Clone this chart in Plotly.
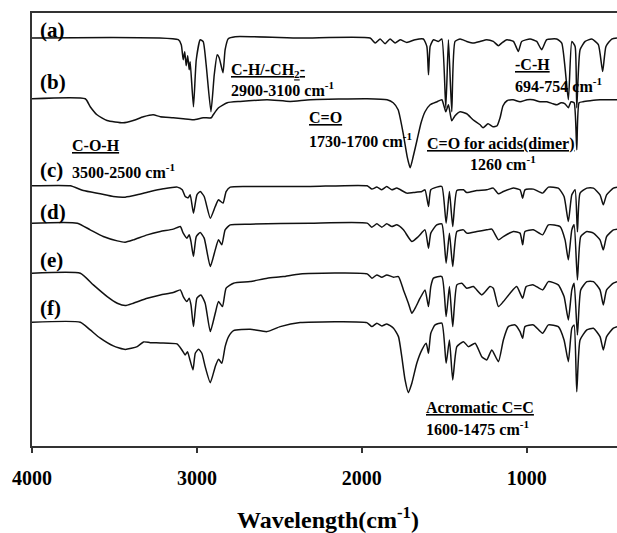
import plotly.graph_objects as go

# Wavenumber (cm-1) and transmittance (a.u., stacked)
wn_a = [4000, 3113, 3095, 3083, 3074, 3065, 3056, 3047, 3041, 3021, 3004, 2980, 2962, 2944, 2915, 2895, 2877, 2865, 2842, 2829, 2810, 2768, 2374, 1950, 1919, 1889, 1859, 1829, 1798, 1768, 1727, 1677, 1627, 1606, 1596, 1586, 1566, 1536, 1515, 1491, 1475, 1455, 1435, 1404, 1364, 1324, 1283, 1243, 1203, 1172, 1152, 1121, 1081, 1051, 1031, 980, 940, 910, 879, 819, 788, 748, 727, 707, 697, 677, 646, 606, 566, 540, 520, 485, 453]
t_a = [407.7, 406, 401, 386, 394, 380, 390, 376, 384, 339, 386, 406, 404, 381, 334, 371, 391, 388, 373, 396, 407, 409, 407.7, 407.7, 402.7, 406.7, 402, 406.7, 402.7, 406, 403.3, 406, 406.7, 399.3, 371, 399.3, 406, 404.3, 406.7, 338, 406, 334, 404.3, 406.7, 404.3, 402.7, 404.3, 406, 404.3, 400, 402.7, 406, 404.3, 394.3, 404.3, 406.7, 404.3, 396, 406, 406.7, 402.7, 346, 404.3, 399.3, 338, 396, 404.3, 406.7, 401, 374.3, 399.3, 406.7, 407.7]

wn_b = [4000, 3677, 3647, 3606, 3545, 3447, 3386, 3325, 3265, 3222, 3144, 3083, 3021, 2962, 2913, 2901, 2869, 2816, 2738, 2574, 2435, 2313, 1968, 1847, 1810, 1780, 1750, 1725, 1707, 1689, 1665, 1641, 1617, 1586, 1544, 1515, 1491, 1475, 1455, 1435, 1404, 1364, 1326, 1283, 1265, 1235, 1205, 1180, 1162, 1144, 1120, 1083, 1041, 998, 962, 920, 878, 841, 817, 792, 768, 748, 732, 713, 697, 683, 659, 616, 556, 495, 453]
t_b = [347, 347, 339, 331, 325.3, 323, 325.3, 329, 331, 329, 328, 327, 326, 328, 328, 331, 338, 343, 344.3, 346, 344.3, 346, 347, 346, 343, 336, 313, 289, 278, 289, 306, 323, 334, 341, 344, 346, 334, 341, 325, 330, 334, 332, 326, 321, 318, 322, 319, 320, 328, 340, 345, 346, 344, 346, 346, 344, 344, 342, 341, 343, 342, 338, 344, 343, 296, 343, 344, 345, 346, 346, 346]

wn_c = [4000, 3768, 3689, 3586, 3507, 3435, 3362, 3283, 3204, 3119, 3089, 3071, 3053, 3041, 3021, 3000, 2980, 2956, 2919, 2889, 2869, 2842, 2823, 2798, 2677, 2313, 1968, 1939, 1909, 1879, 1849, 1818, 1788, 1727, 1689, 1636, 1617, 1596, 1582, 1546, 1515, 1489, 1469, 1449, 1424, 1384, 1364, 1303, 1243, 1203, 1172, 1142, 1081, 1041, 1025, 1011, 960, 904, 869, 809, 774, 748, 727, 707, 693, 677, 636, 596, 556, 536, 516, 475, 453]
t_c = [260, 260, 255.3, 252, 249.3, 248.7, 251, 254.3, 257, 258.7, 256, 249.3, 248, 251, 232.7, 251, 254.3, 249.3, 227.7, 239.3, 246, 242.7, 254.3, 258.7, 259.3, 259.3, 260, 256.7, 258.7, 256, 259.3, 256, 257.7, 252.7, 253.3, 254.3, 256, 239.3, 256, 258.7, 259.3, 222.7, 254.3, 219.3, 255.3, 256, 253.3, 255.3, 256, 257.7, 252, 254.3, 257.7, 256, 247.7, 256, 256.7, 252.7, 258.7, 257.7, 249.3, 224.3, 251, 256, 214, 252.7, 257.7, 257.7, 251, 241, 251, 257.7, 258.7]

wn_d = [4000, 3725, 3647, 3568, 3483, 3435, 3386, 3301, 3222, 3144, 3101, 3083, 3061, 3047, 3036, 3021, 3004, 2980, 2956, 2919, 2889, 2869, 2849, 2829, 2798, 2677, 2313, 1968, 1939, 1909, 1879, 1849, 1818, 1788, 1748, 1697, 1657, 1617, 1596, 1582, 1546, 1515, 1489, 1469, 1449, 1424, 1384, 1364, 1303, 1243, 1212, 1172, 1142, 1081, 1041, 1025, 1011, 960, 904, 869, 798, 768, 748, 727, 713, 693, 673, 636, 596, 556, 536, 516, 475, 453]
t_d = [222.7, 222.7, 216, 209.3, 205, 203.7, 206, 211, 214.3, 216.7, 219.3, 212.7, 207.7, 211, 204.3, 189.3, 209.3, 213.3, 207.7, 179.3, 196, 206, 201, 216, 221, 221.7, 222.7, 222.7, 218.7, 222, 218.7, 222, 219.3, 221, 216, 204.3, 209.3, 216, 197.7, 212.7, 221, 222, 182.7, 212.7, 179.3, 214.3, 216, 212.7, 214.3, 216, 216.7, 206, 209.3, 214.3, 212.7, 201, 214.3, 216, 211, 221, 219.3, 206, 186, 216, 221, 166, 209.3, 214.3, 212.7, 206, 196, 209.3, 216, 216.7]

wn_e = [4000, 3707, 3628, 3544, 3483, 3435, 3386, 3301, 3222, 3144, 3101, 3083, 3061, 3047, 3036, 3021, 3000, 2976, 2950, 2919, 2889, 2869, 2845, 2823, 2778, 2677, 2574, 2477, 2374, 1968, 1939, 1909, 1879, 1849, 1808, 1778, 1748, 1718, 1697, 1677, 1647, 1617, 1596, 1582, 1566, 1515, 1489, 1469, 1449, 1424, 1394, 1364, 1324, 1273, 1223, 1203, 1172, 1142, 1101, 1061, 1025, 1004, 960, 904, 869, 809, 774, 748, 727, 713, 693, 673, 636, 596, 556, 536, 516, 475, 453]
t_e = [172.7, 172.7, 161, 149.3, 142.7, 140.3, 142.7, 147.7, 151, 153.3, 156, 149.3, 144.3, 147.7, 141, 119.3, 147.7, 151, 142.7, 114.3, 132.7, 144.3, 139.3, 157.7, 162.7, 164.3, 167.7, 169.3, 172, 172, 167.7, 171, 168.7, 171, 168.7, 169.3, 156, 142.7, 132.7, 137.7, 147.7, 156, 139.3, 159.3, 167.7, 169.3, 129.3, 159.3, 119.3, 161, 162.7, 157.7, 159.3, 151, 159.3, 157.7, 139.3, 144.3, 152.7, 159.3, 147.7, 159.3, 161, 156, 164.3, 161, 149.3, 126, 156, 162.7, 111, 156, 164.3, 164.3, 156, 141, 156, 162.7, 164.3]

wn_f = [4000, 3707, 3647, 3586, 3507, 3435, 3362, 3324, 3283, 3222, 3121, 3091, 3071, 3057, 3045, 3024, 3010, 2990, 2970, 2950, 2919, 2889, 2869, 2849, 2829, 2808, 2778, 2677, 2576, 2495, 2374, 1970, 1939, 1909, 1879, 1849, 1808, 1778, 1758, 1738, 1718, 1697, 1667, 1636, 1610, 1596, 1582, 1556, 1515, 1489, 1469, 1449, 1424, 1384, 1354, 1313, 1273, 1243, 1212, 1172, 1142, 1112, 1071, 1041, 1025, 1011, 960, 904, 869, 809, 774, 748, 727, 713, 697, 677, 636, 596, 556, 536, 516, 475, 453]
t_f = [123.7, 123.7, 116, 107.7, 100, 96.5, 99.3, 104, 103.3, 103, 102, 96, 91, 94.3, 87.7, 76, 92.7, 96.7, 92.7, 79.3, 63.3, 79.3, 86.7, 82.7, 99.3, 109.3, 115.3, 116.7, 114.3, 119.3, 123.3, 123.3, 119.3, 122.7, 120, 122, 117.7, 109.3, 89.3, 66, 53.3, 62.7, 82.7, 96, 102.7, 92.7, 112.7, 121, 122.7, 82.7, 106, 66, 99.3, 104.3, 99.3, 102.7, 89.3, 86, 96, 84.3, 106, 119.3, 121, 114.3, 107.7, 119.3, 121, 112.7, 121, 119.3, 106, 84.3, 117.7, 121, 54.3, 106, 116, 117.7, 109.3, 96, 109.3, 117.7, 119.3]

series = [(wn_a, t_a), (wn_b, t_b), (wn_c, t_c), (wn_d, t_d), (wn_e, t_e), (wn_f, t_f)]
labels = ["(a)", "(b)", "(c)", "(d)", "(e)", "(f)"]
label_y = [416, 364, 276, 234, 186, 138]
tick_vals = [4000, 3000, 2000, 1000]
tick_text = ["4000", "3000", "2000", "1000"]

SERIF = "Liberation Serif, Times New Roman, serif"

fig = go.Figure()
for wn, t in series:
    fig.add_trace(go.Scatter(x=wn, y=t, mode="lines",
                             line=dict(color="#111111", width=1.5, shape="spline", smoothing=0.5),
                             showlegend=False, hoverinfo="skip"))

ann = []
for lab, ly in zip(labels, label_y):
    ann.append(dict(x=3962, y=ly, text="<b>%s</b>" % lab, xanchor="left", yanchor="middle",
                    showarrow=False, font=dict(family=SERIF, size=21, color="black")))

notes = [
    (2804, 375, "<b><u>C-H/-CH<sub>2</sub>-</u></b>"),
    (2804, 357, "<b>2900-3100 cm<sup>-1</sup></b>"),
    (1083, 381, "<b><u>-C-H</u></b>"),
    (1083, 361, "<b>694-754 cm<sup>-1</sup></b>"),
    (2332, 328, "<b><u>C=O</u></b>"),
    (2332, 306, "<b>1730-1700 cm<sup>-1</sup></b>"),
    (1617, 302, "<b><u>C=O for acids(dimer)</u></b>"),
    (1356, 283, "<b>1260 cm<sup>-1</sup></b>"),
    (3768, 300, "<b><u>C-O-H</u></b>"),
    (3768, 275, "<b>3500-2500 cm<sup>-1</sup></b>"),
    (1623, 38, "<b><u>Acromatic C=C</u></b>"),
    (1623, 18, "<b>1600-1475 cm<sup>-1</sup></b>"),
]
for x, y, txt in notes:
    ann.append(dict(x=x, y=y, text=txt, xanchor="left", yanchor="middle", showarrow=False,
                    font=dict(family=SERIF, size=16, color="black")))

ann.append(dict(x=0.506, y=-0.167, xref="paper", yref="paper",
                text="<b>Wavelength(cm<sup>-1</sup>)</b>", showarrow=False,
                xanchor="center", yanchor="middle",
                font=dict(family=SERIF, size=24, color="black")))

fig.update_layout(
    width=617, height=533,
    margin=dict(l=32, r=0, t=13, b=87),
    paper_bgcolor="white", plot_bgcolor="white",
    annotations=ann,
    xaxis=dict(range=[4000, 453], showgrid=False, zeroline=False,
               showline=True, linecolor="#333333", linewidth=1.5, mirror=True,
               ticks="outside", ticklen=5, tickwidth=1.5, tickcolor="#333333",
               tickvals=tick_vals, ticktext=tick_text, ticklabelstandoff=8,
               tickfont=dict(family=SERIF, size=20, color="black", weight="bold")),
    yaxis=dict(range=[0, 432.7], showgrid=False, zeroline=False,
               showline=True, linecolor="#333333", linewidth=1.5,
               showticklabels=False, ticks=""),
)

fig.write_html("out.html", config={"displayModeBar": False},
               post_script="document.body.style.margin='0px';document.body.style.overflow='hidden';")
